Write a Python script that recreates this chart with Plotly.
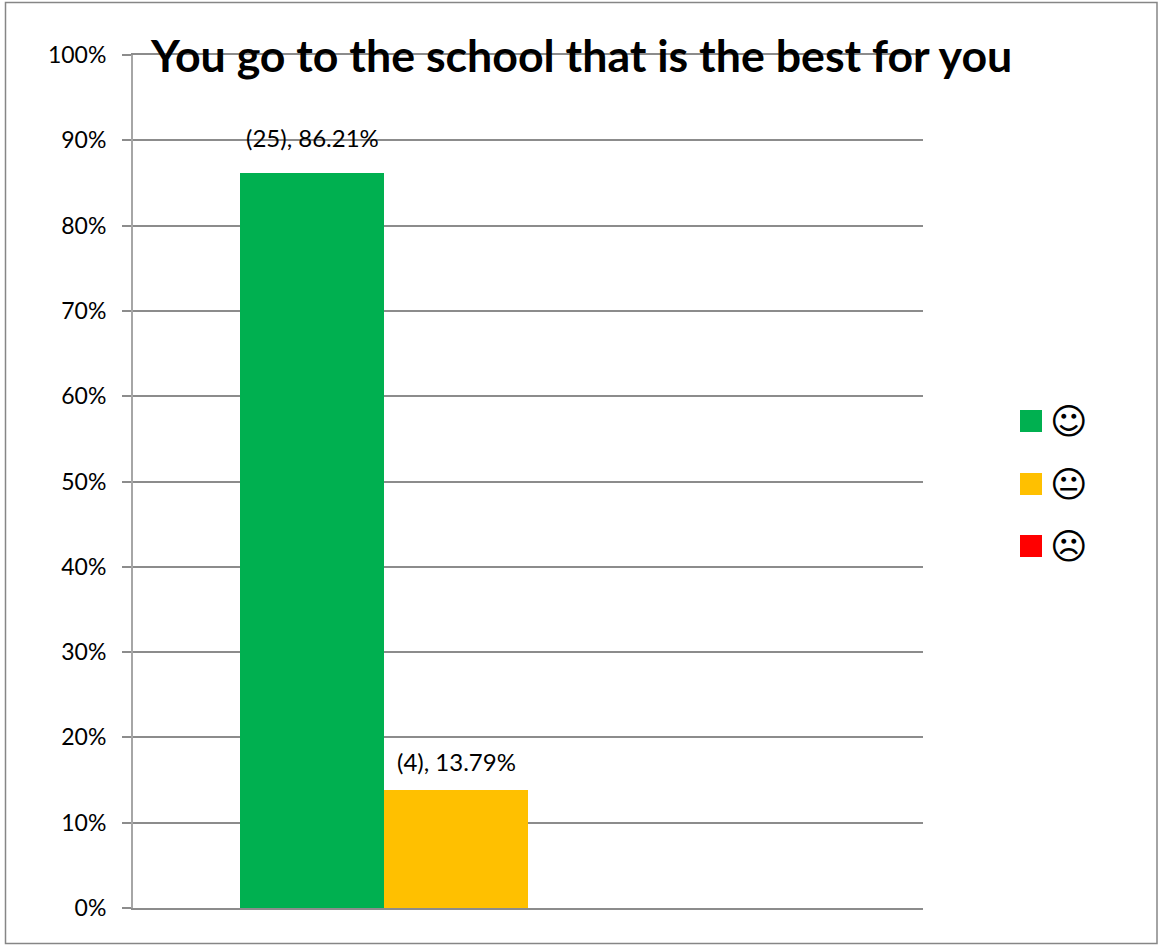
import plotly.graph_objects as go

categories = [0, 1, 2]
faces = ["\u263A", "\U0001F610", "\u2639"]
values = [86.21, 13.79, 0]
counts = [25, 4, 0]
colors = ["#00B050", "#FFC000", "#FF0000"]
yticks = list(range(0, 101, 10))
title = "You go to the school that is the best for you"

W, H = 1158, 945
L, R, T, B = 133, 923, 55, 908
GRID = "#8C8C8C"

fig = go.Figure(go.Bar(x=categories, y=values, marker=dict(color=colors, line=dict(width=0)),
                       width=1, showlegend=False, hoverinfo="skip"))

anns = [dict(text=title, xref="paper", yref="paper", x=(581 - L) / (R - L), y=(B - 55) / (B - T),
             xanchor="center", yanchor="middle", showarrow=False,
             font=dict(family="Lato", size=44.7, color="black", weight="bold"))]
for c, v, n, shift in zip(categories, values, counts, [35, 29, 0]):
    if n:
        anns.append(dict(text=f"({n}), {v:.2f}%", x=c, y=v, xref="x", yref="y", yshift=shift, yanchor="middle",
                         showarrow=False, font=dict(family="Lato", size=24, color="black")))

shapes = [dict(type="rect", xref="paper", yref="paper", x0=(5.5 - L) / (R - L), x1=(1157 - L) / (R - L),
               y0=(B - 943.5) / (B - T), y1=(B - 2.5) / (B - T), line=dict(color="#868686", width=1.5), layer="below")]
for i, (c, f, yc) in enumerate(zip(colors, faces, [421, 484, 546])):
    shapes.append(dict(type="rect", xref="paper", yref="paper", x0=(1020 - L) / (R - L), x1=(1042 - L) / (R - L),
                       y0=(B - yc - 11) / (B - T), y1=(B - yc + 11) / (B - T), fillcolor=c, line=dict(width=0)))
    anns.append(dict(text=f, xref="paper", yref="paper", x=(1069 - L) / (R - L), y=(B - yc) / (B - T),
                     xanchor="center", yanchor="middle", showarrow=False,
                     font=dict(family="DejaVu Sans", size=36, color="black")))

fig.update_layout(
    width=W, height=H, autosize=False,
    margin=dict(l=L, r=W - R, t=T, b=H - B, pad=0),
    paper_bgcolor="white", plot_bgcolor="white",
    bargap=0, annotations=anns, shapes=shapes,
    xaxis=dict(range=[-(312 - L) / 144, (R - 312) / 144], showticklabels=False, ticks="", showgrid=False,
               zeroline=False, showline=True, linecolor=GRID, linewidth=1.5, mirror=True, fixedrange=True),
    yaxis=dict(range=[0, 100], tickvals=yticks, ticktext=[f"{t}%" for t in yticks], ticks="outside", ticklen=9,
               tickwidth=1.5, tickcolor=GRID, gridcolor=GRID, gridwidth=1.5, showline=True, linecolor="#A6A6A6",
               linewidth=2, zeroline=False, ticklabelstandoff=11,
               tickfont=dict(family="Lato", size=23, color="black"), fixedrange=True),
)
fig.write_html("out.html", config=dict(displayModeBar=False),
               post_script="document.body.style.margin='0';")
